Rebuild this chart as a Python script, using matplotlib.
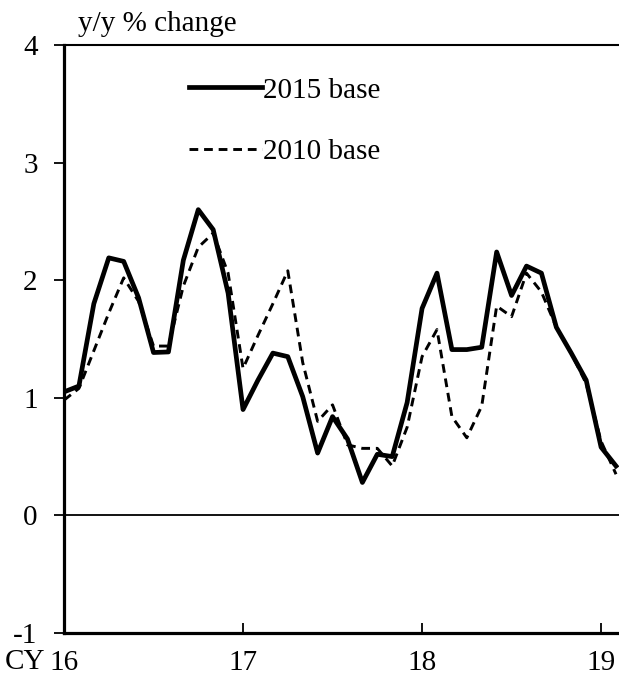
import matplotlib.pyplot as plt

plt.rcParams['font.family'] = ['Liberation Serif', 'DejaVu Serif']

# monthly, Jan 2016 .. Feb 2019
base2015 = [1.05, 1.1, 1.8, 2.19, 2.16, 1.85, 1.385, 1.39, 2.17, 2.6, 2.43, 1.89,
            0.9, 1.15, 1.38, 1.35, 1.01, 0.53, 0.84, 0.65, 0.28, 0.52, 0.5, 0.96,
            1.76, 2.06, 1.41, 1.41, 1.43, 2.24, 1.87, 2.12, 2.06, 1.6, 1.38, 1.15,
            0.58, 0.42]
base2010 = [0.98, 1.08, 1.4, 1.72, 2.02, 1.82, 1.44, 1.44, 1.95, 2.28, 2.4, 2.06,
            1.25, 1.53, 1.8, 2.08, 1.3, 0.8, 0.94, 0.6, 0.57, 0.57, 0.42, 0.75,
            1.35, 1.58, 0.84, 0.66, 0.93, 1.78, 1.69, 2.06, 1.9, 1.6, 1.38, 1.12,
            0.63, 0.35]
xtick_pos = [0, 12, 24, 36]
xtick_lab = ['16', '17', '18', '19']
yticks = [-1, 0, 1, 2, 3, 4]

fig = plt.figure(figsize=(6.19, 6.79), dpi=100)
ax = fig.add_axes([64/619, 1-633/679, 1-64/619, (633-45)/679])

x = list(range(len(base2015)))
ax.plot(x, base2015, color='black', lw=3.4, label='2015 base')
ax.plot(x, base2010, color='black', lw=2.1, ls=(0, (3, 2)), label='2010 base')
ax.axhline(0, color='black', lw=1.3)

ax.set_xlim(0, 37.2)
ax.set_ylim(-1, 4)
ax.set_xticks(xtick_pos)
ax.set_xticklabels(xtick_lab, fontsize=21)
ax.set_yticks(yticks)
ax.set_yticklabels([str(v) for v in yticks], fontsize=21)
ax.tick_params(axis='x', direction='in', length=7, width=1.3, pad=12)
ax.tick_params(axis='y', direction='out', length=7, width=1.3, pad=12)
for s in ['left', 'bottom']:
    ax.spines[s].set_linewidth(2.3)
ax.spines['top'].set_linewidth(1.5)
ax.spines['right'].set_visible(False)

fig.text(45/619, 1-662/679, 'CY', fontsize=21, ha='right', va='center')
fig.text(78/619, 1-24/679, 'y/y % change', fontsize=21, ha='left', va='center')

ax.legend(loc='upper left', bbox_to_anchor=(0.178, 0.99), frameon=False, fontsize=21,
          handlelength=2.5, handletextpad=0.05, labelspacing=1.2)

fig.savefig('out.png')
